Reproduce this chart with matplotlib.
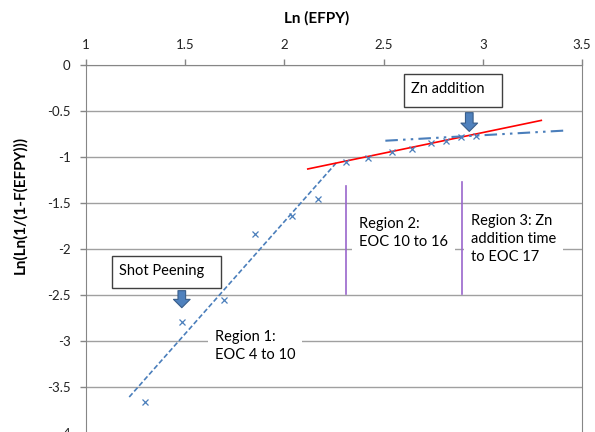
import numpy as np
import matplotlib
matplotlib.use("Agg")
import matplotlib.pyplot as plt
from matplotlib.patches import Rectangle

#==========================================================
# DATA
#==========================================================
ln_efpy = [1.300, 1.482, 1.696, 1.854, 2.039, 2.167,
           2.311, 2.420, 2.541, 2.645, 2.737, 2.816, 2.891, 2.968]
ln_ln_f = [-3.663, -2.796, -2.551, -1.837, -1.636, -1.457,
           -1.052, -1.008, -0.950, -0.910, -0.848, -0.830, -0.787, -0.768]

# trend lines (end points)
trend1_x = [1.218, 2.261]
trend1_y = [-3.609, -1.065]
trend2_x = [2.118, 3.295]
trend2_y = [-1.130, -0.602]
trend3_x = [2.509, 3.426]
trend3_y = [-0.823, -0.711]

# region boundaries
bound_x = [2.311, 2.895]
bound_top = [-1.312, -1.268]
bound_bottom = [-2.486, -2.486]

xticks = [1, 1.5, 2, 2.5, 3, 3.5]
yticks = [0, -0.5, -1, -1.5, -2, -2.5, -3, -3.5, -4]

#==========================================================
# PLOT
#==========================================================
plt.rcParams['font.family'] = ['Lato', 'DejaVu Sans']
BLUE = '#4A7EBB'
GRID = '#A0A0A0'

fig = plt.figure(figsize=(5.95, 4.32), dpi=100)
ax = fig.add_axes([0.1445, -0.0023, 0.8336, 0.8518])
ax.set_xlim(1, 3.5)
ax.set_ylim(-4, 0)

ax.set_xticks(xticks)
ax.set_xticklabels([f"{t:g}" for t in xticks])
ax.set_yticks(yticks)
ax.set_yticklabels([f"{t:g}" for t in yticks])
ax.xaxis.tick_top()
ax.tick_params(axis='x', length=4, width=1, color='#868686', pad=6,
               labelsize=9.5, labelcolor='#222222')
ax.tick_params(axis='y', length=4, width=1, color='#868686', pad=7,
               labelsize=9.5, labelcolor='#222222')
for s in ax.spines.values():
    s.set_color('#868686')
ax.spines['bottom'].set_visible(False)
ax.yaxis.grid(True, color=GRID, lw=1)
ax.set_axisbelow(True)

# data and trend lines
ax.plot(trend1_x, trend1_y, color=BLUE, lw=1.2, ls=(0, (3, 1.5)), zorder=3)
ax.plot(trend2_x, trend2_y, color='red', lw=1.2, zorder=3)
ax.plot(trend3_x, trend3_y, color=BLUE, lw=1.5,
        ls=(0, (6, 2.5, 1.2, 2.5, 1.2, 2.5)), zorder=3)
ax.plot(ln_efpy, ln_ln_f, 'x', color=BLUE, ms=4, mew=0.9, zorder=4)

# region boundaries
for bx, bt, bb in zip(bound_x, bound_top, bound_bottom):
    ax.plot([bx, bx], [bt, bb], color='#9966CC', lw=1.2, zorder=5)

# region labels (white background hides the gridlines)
box = dict(fc='white', ec='none', pad=5)
ax.text(1.649, -3.05, "Region 1:\nEOC 4 to 10", fontsize=10.5, va='center',
        linespacing=1.35, bbox=box, zorder=4)
ax.text(2.378, -1.83, "Region 2:\nEOC 10 to 16", fontsize=10.5, va='center',
        linespacing=1.35, bbox=box, zorder=4)
ax.text(2.940, -1.89, "Region 3: Zn\naddition time\nto EOC 17", fontsize=10.5,
        va='center', linespacing=1.35, bbox=box, zorder=4)

# event boxes
ax.add_patch(Rectangle((2.601, -0.457), 0.498, 0.362, fc='white', ec='#404040',
                       lw=1, zorder=6))
ax.text(2.638, -0.263, "Zn addition", fontsize=10.5, va='center', zorder=7)
ax.add_patch(Rectangle((1.129, -2.424), 0.552, 0.344, fc='white', ec='#404040',
                       lw=1, zorder=6))
ax.text(1.167, -2.235, "Shot Peening", fontsize=10.5, va='center', zorder=7)

# block arrows
arr = dict(arrowstyle='simple,head_width=1.2,head_length=0.6,tail_width=0.55',
           fc='#4F81BD', ec='#385D8A', lw=0.8, shrinkA=0, shrinkB=0,
           mutation_scale=10)
ax.annotate('', xy=(2.932, -0.722), xytext=(2.932, -0.518), arrowprops=arr,
            zorder=6)
ax.annotate('', xy=(1.483, -2.638), xytext=(1.483, -2.453), arrowprops=arr,
            zorder=6)

# axis titles
fig.text(317 / 595, 1 - 18 / 432, "Ln (EFPY)", fontsize=11, fontweight='bold',
         ha='center', va='center')
fig.text(20 / 595, 1 - 205 / 432, "Ln(Ln(1/(1-F(EFPY)))", fontsize=11,
         fontweight='bold', rotation=90, ha='center', va='center')

fig.savefig("out.png", dpi=100)
